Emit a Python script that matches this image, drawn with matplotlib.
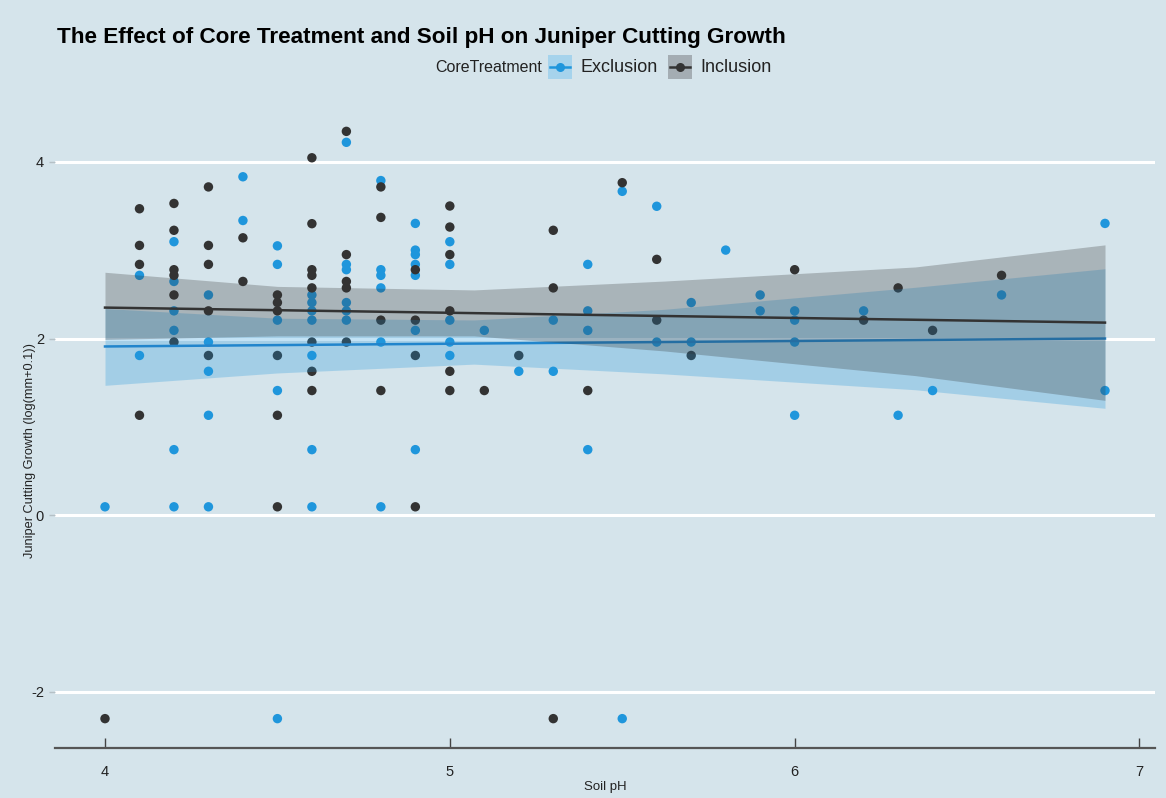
import numpy as np
import matplotlib
matplotlib.use("Agg")
import matplotlib.pyplot as plt
from matplotlib.lines import Line2D
from matplotlib.patches import Rectangle

# ---------------- data ----------------
excl_ph = [4.0,
           4.1, 4.1,
           4.2, 4.2, 4.2, 4.2, 4.2, 4.2,
           4.3, 4.3, 4.3, 4.3, 4.3,
           4.4, 4.4,
           4.5, 4.5, 4.5, 4.5, 4.5,
           4.6, 4.6, 4.6, 4.6, 4.6, 4.6, 4.6,
           4.7, 4.7, 4.7, 4.7, 4.7, 4.7,
           4.8, 4.8, 4.8, 4.8, 4.8, 4.8,
           4.9, 4.9, 4.9, 4.9, 4.9, 4.9, 4.9,
           5.0, 5.0, 5.0, 5.0, 5.0,
           5.1, 5.2, 5.3, 5.3,
           5.4, 5.4, 5.4, 5.4,
           5.5, 5.5, 5.6, 5.6, 5.7, 5.7, 5.8, 5.9, 5.9,
           6.0, 6.0, 6.0, 6.0,
           6.2, 6.3, 6.4, 6.6, 6.9, 6.9]
excl_growth = [0.095,
               2.715, 1.808,
               3.096, 2.646, 2.313, 2.092, 0.742, 0.095,
               2.493, 1.960, 1.629, 1.131, 0.095,
               3.831, 3.336,
               3.049, 2.839, 2.208, 1.411, -2.303,
               2.493, 2.407, 2.313, 2.208, 1.808, 0.742, 0.095,
               4.221, 2.839, 2.779, 2.407, 2.313, 2.208,
               3.788, 2.779, 2.715, 2.573, 1.960, 0.095,
               3.303, 3.001, 2.950, 2.839, 2.715, 2.092, 0.742,
               3.096, 2.839, 2.208, 1.960, 1.808,
               2.092, 1.629, 2.208, 1.629,
               2.839, 2.313, 2.092, 0.742,
               3.666, -2.303, 3.497, 1.960, 2.407, 1.960, 3.001, 2.493, 2.313,
               2.313, 2.208, 1.960, 1.131,
               2.313, 1.131, 1.411, 2.493, 3.303, 1.411]

incl_ph = [4.0,
           4.1, 4.1, 4.1, 4.1,
           4.2, 4.2, 4.2, 4.2, 4.2, 4.2,
           4.3, 4.3, 4.3, 4.3, 4.3,
           4.4, 4.4,
           4.5, 4.5, 4.5, 4.5, 4.5, 4.5,
           4.6, 4.6, 4.6, 4.6, 4.6, 4.6, 4.6, 4.6,
           4.7, 4.7, 4.7, 4.7, 4.7,
           4.8, 4.8, 4.8, 4.8,
           4.9, 4.9, 4.9, 4.9,
           5.0, 5.0, 5.0, 5.0, 5.0, 5.0,
           5.1, 5.2, 5.3, 5.3, 5.3, 5.4, 5.5, 5.6, 5.6, 5.7,
           6.0, 6.2, 6.3, 6.4, 6.6]
incl_growth = [-2.303,
               3.469, 3.054, 2.839, 1.131,
               3.529, 3.225, 2.779, 2.715, 2.493, 1.960,
               3.716, 3.054, 2.839, 2.313, 1.808,
               3.140, 2.646,
               2.493, 2.407, 2.313, 1.808, 1.131, 0.095,
               4.046, 3.300, 2.779, 2.715, 2.573, 1.960, 1.629, 1.411,
               4.345, 2.950, 2.646, 2.573, 1.960,
               3.716, 3.371, 2.208, 1.411,
               2.779, 2.208, 1.808, 0.095,
               3.500, 3.262, 2.950, 2.313, 1.629, 1.411,
               1.411, 1.808, 3.225, 2.573, -2.303, 1.411, 3.764, 2.896, 2.208, 1.808,
               2.779, 2.208, 2.573, 2.092, 2.715]

# fitted lines and 95% confidence bands
fit_ph = [4.0, 6.9]
excl_fit = [1.91, 2.00]
incl_fit = [2.35, 2.18]
band_ph = [4.0, 4.5, 5.07, 5.62, 6.35, 6.9]
excl_upper = [2.34, 2.23, 2.21, 2.33, 2.58, 2.79]
excl_lower = [1.47, 1.61, 1.71, 1.60, 1.42, 1.21]
incl_upper = [2.75, 2.59, 2.55, 2.65, 2.81, 3.06]
incl_lower = [1.99, 2.03, 2.03, 1.86, 1.58, 1.30]

groups = ["Exclusion", "Inclusion"]
x_ticks = [4, 5, 6, 7]
y_ticks = [-2, 0, 2, 4]

# ---------------- style ----------------
BG = "#d5e4eb"
BLUE = "#1f96dc"
BLACK = "#333333"
colors = {"Exclusion": BLUE, "Inclusion": BLACK}
LINECOL = {"Exclusion": "#2185cc", "Inclusion": "#333333"}
KEYBG = {"Exclusion": "#a6d3ec", "Inclusion": "#a4adb3"}
SANS = ["Liberation Sans", "DejaVu Sans"]
TXT = "#222222"

W, H = 1166, 798
fig = plt.figure(figsize=(W / 100, H / 100), dpi=100, facecolor=BG)
ax = fig.add_axes([55 / W, 1 - 748 / H, 1100 / W, (748 - 102) / H])
ax.set_facecolor(BG)

points = {"Exclusion": (excl_ph, excl_growth), "Inclusion": (incl_ph, incl_growth)}
fits = {"Exclusion": excl_fit, "Inclusion": incl_fit}
bands = {"Exclusion": (excl_lower, excl_upper), "Inclusion": (incl_lower, incl_upper)}

# points first (ribbons are drawn on top, as in the original)
for g in groups:
    x, y = points[g]
    ax.scatter(x, y, s=46, color=colors[g], edgecolors="none", zorder=2)

z = 3
for g in groups:
    lo, hi = bands[g]
    ax.fill_between(band_ph, lo, hi, color=colors[g], alpha=0.27, linewidth=0, zorder=z)
    ax.plot(fit_ph, fits[g], color=LINECOL[g], lw=1.8, zorder=z + 0.5)
    z += 1

ax.margins(x=0.05, y=0.05)
ax.set_xticks(x_ticks)
ax.set_yticks(y_ticks)
ax.set_xticklabels([str(t) for t in x_ticks], family=SANS, fontsize=10.5, color=TXT)
ax.set_yticklabels([str(t) for t in y_ticks], family=SANS, fontsize=10.5, color=TXT)
ax.grid(axis="y", color="white", lw=2.2, zorder=0)
ax.set_axisbelow(True)
for sp in ["top", "right", "left"]:
    ax.spines[sp].set_visible(False)
ax.spines["bottom"].set_color("#555555")
ax.spines["bottom"].set_linewidth(1.6)
ax.tick_params(axis="x", direction="in", length=7, width=1, color="#444444", pad=12)
ax.tick_params(axis="y", direction="out", length=4, width=1, color="#b5c0c6", pad=4)
ax.set_xlabel("Soil pH", family=SANS, fontsize=9.5, color=TXT, labelpad=2)
ax.set_ylabel("Juniper Cutting Growth (log(mm+0.1))", family=SANS, fontsize=9.2,
              color=TXT, labelpad=2)
ax.yaxis.set_label_coords(-19 / 1100, 0.46)

# title
fig.text(57 / W, 1 - 37 / H, "The Effect of Core Treatment and Soil pH on Juniper Cutting Growth",
         family=SANS, fontweight="bold", fontsize=16.2, ha="left", va="center", color="black")

# legend (drawn manually: title on the left, boxed keys)
ly = 1 - 67 / H
fig.text(542 / W, ly, "CoreTreatment", family=SANS, fontsize=11.5, ha="right", va="center",
         color=TXT)
key_x = {"Exclusion": 548, "Inclusion": 668}
lab_x = {"Exclusion": 580, "Inclusion": 700}
for g in groups:
    kx = key_x[g]
    fig.patches.append(Rectangle((kx / W, 1 - 79 / H), 24 / W, 24 / H, transform=fig.transFigure,
                                 facecolor=KEYBG[g], edgecolor="none"))
    fig.lines.append(Line2D([(kx + 2) / W, (kx + 22) / W], [ly, ly], transform=fig.transFigure,
                            color=colors[g], lw=1.8))
    fig.lines.append(Line2D([(kx + 12) / W], [ly], transform=fig.transFigure, marker="o",
                            markersize=6.5, color=colors[g], markeredgewidth=0, linestyle="none"))
    fig.text(lab_x[g] / W, ly, g, family=SANS, fontsize=13, ha="left", va="center", color=TXT)

fig.savefig("out.png", dpi=100, facecolor=BG)
